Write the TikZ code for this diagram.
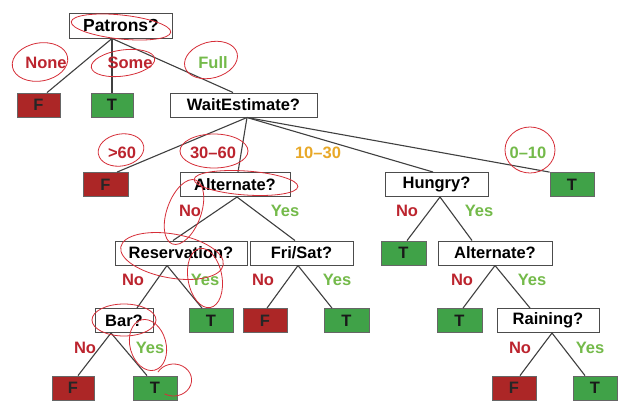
\documentclass[tikz,border=0pt]{standalone}
\usepackage{fontspec}
\setmainfont{Liberation Sans}
\begin{document}
\definecolor{leafred}{RGB}{172,38,38}
\definecolor{leafgreen}{RGB}{64,162,72}
\definecolor{lblred}{RGB}{188,36,46}
\definecolor{lblgreen}{RGB}{116,186,74}
\definecolor{lblorange}{RGB}{232,168,40}
\definecolor{pen}{RGB}{214,46,56}
\begin{tikzpicture}[x=1pt,y=-1pt,
  every node/.style={font=\fontsize{16.5}{18}\selectfont\bfseries, inner sep=0pt},
  test/.style={draw=black!70, line width=1pt, fill=white, minimum height=24pt},
  leafF/.style={draw=black!60, line width=0.8pt, fill=leafred, minimum width=44pt, minimum height=24pt, text=black!85},
  leafT/.style={draw=black!60, line width=0.8pt, fill=leafgreen, minimum width=44pt, minimum height=24pt, text=black!90},
  edge/.style={draw=black!75, line width=1.1pt},
  no/.style={text=lblred},
  yes/.style={text=lblgreen},
  mid/.style={text=lblorange},
  scrib/.style={draw=pen, line width=0.8pt}]
\useasboundingbox[fill=white] (0,0) rectangle (625,400);

% level 0
\node[test, minimum width=103pt, minimum height=25pt, font=\fontsize{17.5}{19}\selectfont\bfseries] (pat) at (121,25.5) {Patrons?};
% level 1
\node[leafF, minimum width=43pt] (f1) at (38.5,105) {F};
\node[leafT, minimum width=42pt] (t1) at (112,105) {T};
\node[test, minimum width=147pt] (we) at (243.5,105) {WaitEstimate?};
% level 2
\node[leafF, minimum width=45pt] (f2) at (105.5,184.5) {F};
\node[test, minimum width=110pt] (alt1) at (235,184.5) {Alternate?};
\node[test, minimum width=103pt] (hun) at (436.5,184.5) {Hungry?};
\node[leafT] (t2) at (572,184.5) {T};
% level 3
\node[test, minimum width=132pt] (res) at (181,253) {Reservation?};
\node[test, minimum width=103pt] (fri) at (301.5,253) {Fri/Sat?};
\node[leafT, minimum width=45pt] (t3) at (403.5,253) {T};
\node[test, minimum width=114pt] (alt2) at (495,253) {Alternate?};
% level 4
\node[test, minimum width=58pt] (bar) at (124,320.5) {Bar?};
\node[leafT] (t4) at (211,320.5) {T};
\node[leafF] (f3) at (265,320.5) {F};
\node[leafT, minimum width=45pt] (t5) at (346.5,320.5) {T};
\node[leafT, minimum width=45pt] (t6) at (459.5,320.5) {T};
\node[test, minimum width=102pt] (rain) at (548,320.5) {Raining?};
% level 5
\node[leafF, minimum width=42pt] (f4) at (73,388) {F};
\node[leafT] (t7) at (155,388) {T};
\node[leafF] (f5) at (514,388) {F};
\node[leafT] (t8) at (595,388) {T};

% branches
\draw[edge] ([xshift=-9pt]pat.south) -- ([xshift=8.5pt]f1.north);
\draw[edge] ([xshift=-9pt]pat.south) -- (t1.north);
\draw[edge] ([xshift=-9pt]pat.south) -- ([xshift=-10.5pt]we.north);

\draw[edge] ([xshift=3.5pt]we.south) -- ([xshift=11.5pt]f2.north);
\draw[edge] ([xshift=3.5pt]we.south) -- ([xshift=3pt]alt1.north);
\draw[edge] ([xshift=3.5pt]we.south) -- ([xshift=-3.5pt]hun.north);
\draw[edge] ([xshift=3.5pt]we.south) -- (t2.north west);

\draw[edge] ([xshift=2pt]alt1.south) -- ([xshift=-8pt]res.north);
\draw[edge] ([xshift=2pt]alt1.south) -- ([xshift=-6.5pt]fri.north);

\draw[edge] ([xshift=3.5pt]hun.south) -- ([xshift=3.5pt]t3.north);
\draw[edge] ([xshift=3.5pt]hun.south) -- ([xshift=-23pt]alt2.north);

\draw[edge] ([xshift=-14pt]res.south) -- ([xshift=13pt]bar.north);
\draw[edge] ([xshift=-14pt]res.south) -- ([xshift=-9pt]t4.north);

\draw[edge] ([xshift=-3.5pt]fri.south) -- ([xshift=2pt]f3.north);
\draw[edge] ([xshift=-3.5pt]fri.south) -- ([xshift=-14.5pt]t5.north);

\draw[edge] (alt2.south) -- ([xshift=3.5pt]t6.north);
\draw[edge] (alt2.south) -- ([xshift=-18pt]rain.north);

\draw[edge] ([xshift=-13pt]bar.south) -- ([xshift=5pt]f4.north);
\draw[edge] ([xshift=-13pt]bar.south) -- ([xshift=-8pt]t7.north);

\draw[edge] ([xshift=4pt]rain.south) -- ([xshift=6pt]f5.north);
\draw[edge] ([xshift=4pt]rain.south) -- ([xshift=-10pt]t8.north);

% branch labels
\node[no] (lnone) at (46,63) {None};
\node[no] (lsome) at (130,63) {Some};
\node[yes] (lfull) at (213,63) {Full};
\node[no] (lgt) at (122,153) {>60};
\node[no] (l3060) at (213,153) {30--60};
\node[mid] (l1030) at (318,153) {10--30};
\node[yes] (l010) at (528,153) {0--10};
\node[no] (la1n) at (190,211) {No};
\node[yes] (la1y) at (285,211) {Yes};
\node[no] (lhn) at (407,211) {No};
\node[yes] (lhy) at (479,211) {Yes};
\node[no] (lrn) at (133,280) {No};
\node[yes] (lry) at (205,280) {Yes};
\node[no] (lfn) at (263,280) {No};
\node[yes] (lfy) at (337,280) {Yes};
\node[no] (la2n) at (462,280) {No};
\node[yes] (la2y) at (532,280) {Yes};
\node[no] (lbn) at (85,348) {No};
\node[yes] (lby) at (150,348) {Yes};
\node[no] (lrain) at (520,348) {No};
\node[yes] (lraiy) at (590,348) {Yes};

% pen marks
\draw[scrib, rotate around={-6:(121,27)}] (121,27) ellipse [x radius=50pt, y radius=12pt];
\draw[scrib, rotate around={10:(40,62)}] (40,62) ellipse [x radius=28pt, y radius=19pt];
\draw[scrib, rotate around={8:(123,63)}] (123,63) ellipse [x radius=32pt, y radius=13pt];
\draw[scrib, rotate around={15:(211,60)}] (211,60) ellipse [x radius=27pt, y radius=18pt];
\draw[scrib, rotate around={10:(121,150)}] (121,150) ellipse [x radius=23pt, y radius=16pt];
\draw[scrib] (214,151) ellipse [x radius=34pt, y radius=17pt];
\draw[scrib] (530,150) ellipse [x radius=25pt, y radius=23pt];
\draw[scrib, rotate around={-4:(246,183)}] (246,183) ellipse [x radius=52pt, y radius=12pt];
\draw[scrib, rotate around={-20:(184,212)}] (184,212) ellipse [x radius=17pt, y radius=34pt];
\draw[scrib, rotate around={-10:(172,256)}] (172,256) ellipse [x radius=52pt, y radius=22pt];
\draw[scrib, rotate around={10:(205,278)}] (205,278) ellipse [x radius=17pt, y radius=30pt];
\draw[scrib] (124,320) ellipse [x radius=32pt, y radius=16pt];
\draw[scrib, rotate around={15:(148,345)}] (148,345) ellipse [x radius=18pt, y radius=26pt];
\draw[scrib] (158,372) arc [start angle=150, end angle=-120, x radius=18pt, y radius=16pt];
\end{tikzpicture}
\end{document}
